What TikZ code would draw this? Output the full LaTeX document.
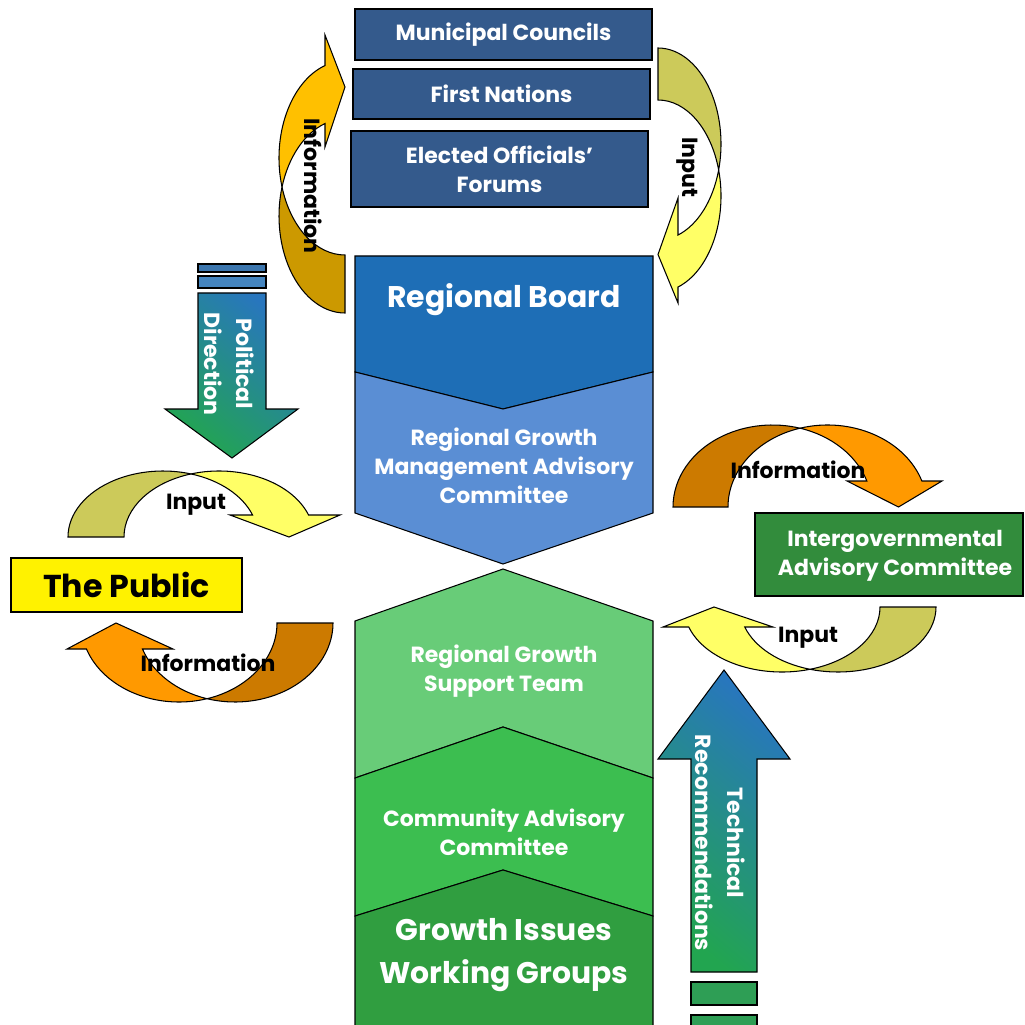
\documentclass[tikz,border=0pt]{standalone}
\usepackage{fontspec}
\setmainfont{Poppins}
\definecolor{topblue}{RGB}{52,90,140}
\definecolor{boardblue}{RGB}{30,110,182}
\definecolor{rgmblue}{RGB}{90,142,212}
\definecolor{rgstgreen}{RGB}{104,204,120}
\definecolor{cacgreen}{RGB}{60,190,80}
\definecolor{giwggreen}{RGB}{48,158,64}
\definecolor{igacgreen}{RGB}{50,140,60}
\definecolor{backolive}{RGB}{204,202,90}
\definecolor{frontyellow}{RGB}{255,255,102}
\definecolor{backorange}{RGB}{204,122,0}
\definecolor{frontorange}{RGB}{255,153,0}
\definecolor{backgold}{RGB}{204,153,0}
\definecolor{frontgold}{RGB}{255,192,0}
\definecolor{arrowblue}{RGB}{40,118,190}
\definecolor{arrowgreen}{RGB}{34,165,80}
% twisted curved arrow: placement, back, front, a, b, d, h, inner barb, outer barb
\newcommand{\twistarrow}[9]{%
  \begin{scope}[#1]
    \pgfmathsetmacro{\cra}{acos(#6/(2*#4))}
    \pgfmathsetmacro{\crb}{180-\cra}
    \pgfmathsetmacro{\crp}{asin(#7/#5)}
    \pgfmathsetmacro{\cry}{#5*sin(\cra)}
    \pgfmathsetmacro{\crx}{#4*cos(\crp)}
    \filldraw[fill=#2] ({-#6/2-#4},0)
      arc[start angle=180, end angle=\cra, x radius=#4, y radius=#5]
      arc[start angle=\crb, end angle=180, x radius=#4, y radius=#5] -- cycle;
    \filldraw[fill=#3] (0,\cry)
      arc[start angle=\cra, end angle=\crp, x radius=#4, y radius=#5]
      -- (#8,#7) -- ({(#8+#9)/2+4},0) -- (#9,#7) -- ({#6/2+\crx},#7)
      arc[start angle=\crp, end angle=\crb, x radius=#4, y radius=#5] -- cycle;
  \end{scope}}

\begin{document}
\begin{tikzpicture}[x=0.2mm, y=0.2mm, line width=0.6pt,
    boxtext/.style={font=\bfseries\fontsize{12.5}{16.5}\selectfont, text=white, align=center, inner sep=0pt},
    bigtext/.style={font=\bfseries\fontsize{17}{24.5}\selectfont, text=white, align=center, inner sep=0pt},
    arrowtext/.style={font=\bfseries\fontsize{12.5}{18.5}\selectfont, text=white, align=center, inner sep=0pt, rotate=-90},
    labeltext/.style={font=\bfseries\fontsize{12.5}{15}\selectfont, text=black, inner sep=0pt}]
    \useasboundingbox (0,0) rectangle (1025,1024);
    \clip (0,0) rectangle (1025,1024);

    % curved arrows
    \twistarrow{shift={(345,837)}, rotate=90}{backgold}{frontgold}{97}{66}{58}{20}{40}{152}
    \twistarrow{shift={(658,854)}, rotate=-90}{backolive}{frontyellow}{96}{63}{52}{20}{28}{133}
    \twistarrow{shift={(191,487)}}{backolive}{frontyellow}{95}{66}{56}{22}{39}{149}
    \twistarrow{shift={(207,401)}, rotate=180}{backorange}{frontorange}{98}{79}{56}{26}{34}{140}
    \twistarrow{shift={(800,517)}}{backorange}{frontorange}{99.5}{82}{55}{26}{47}{142}
    \twistarrow{shift={(810,417)}, rotate=180}{backolive}{frontyellow}{98}{65}{56}{20}{37}{147}

    % top boxes
    \filldraw[fill=topblue] (355,964) rectangle (652,1015);
    \filldraw[fill=topblue] (353,905) rectangle (650,955);
    \filldraw[fill=topblue] (351,817) rectangle (648,893);
    \node[boxtext] (mc) at (503.5,989.5) {Municipal Councils};
    \node[boxtext] (fn) at (501.5,930) {First Nations};
    \node[boxtext] (eof) at (499.5,855) {Elected Officials’\\Forums};

    % central column
    \filldraw[fill=boardblue] (355,768) -- (653,768) -- (653,652) -- (503,615) -- (355,652) -- cycle;
    \filldraw[fill=rgmblue] (355,652) -- (503,615) -- (653,652) -- (653,511) -- (503,460) -- (355,511) -- cycle;
    \filldraw[fill=rgstgreen] (355,403) -- (503,455) -- (653,403) -- (653,246) -- (503,297) -- (355,246) -- cycle;
    \filldraw[fill=cacgreen] (355,246) -- (503,297) -- (653,246) -- (653,108) -- (503,154) -- (355,108) -- cycle;
    \filldraw[fill=giwggreen] (355,108) -- (503,154) -- (653,108) -- (653,-5) -- (355,-5) -- cycle;
    \node[bigtext] (board) at (504,724) {Regional Board};
    \node[boxtext] (rgmac) at (504,558) {Regional Growth\\Management Advisory\\Committee};
    \node[boxtext] (rgst) at (504,353) {Regional Growth\\Support Team};
    \node[boxtext] (cac) at (504,191.5) {Community Advisory\\Committee};
    \node[bigtext] (giwg) at (504,68.5) {Growth Issues\\Working Groups};

    % side boxes
    \filldraw[fill=yellow] (11,412) rectangle (242,466);
    \node[font=\bfseries\fontsize{18}{22}\selectfont, inner sep=0pt] (public) at (126.5,439) {The Public};
    \filldraw[fill=igacgreen] (755,428) rectangle (1023,511);
    \node[boxtext] (igac) at (895,468) {Intergovernmental\\Advisory Committee};

    % straight arrows
    \filldraw[fill={rgb,255:red,60;green,118;blue,174}] (198,752) rectangle (266,760);
    \filldraw[fill={rgb,255:red,69;green,133;blue,191}] (198,736) rectangle (266,748);
    \draw[top color=arrowblue, bottom color=arrowgreen, shading angle=-40]
      (198,731) -- (266,731) -- (266,615) -- (298,615) -- (232,566) -- (165,615) -- (198,615) -- cycle;
    \node[arrowtext] (poldir) at (229,660) {Political\\Direction};
    \draw[top color=arrowblue, bottom color=arrowgreen, shading angle=-40]
      (691,52) -- (691,265) -- (658,265) -- (724,354) -- (790,265) -- (757,265) -- (757,52) -- cycle;
    \filldraw[fill={rgb,255:red,46;green,158;blue,85}] (691,19) rectangle (757,42);
    \filldraw[fill={rgb,255:red,46;green,158;blue,85}] (691,-5) rectangle (757,9);
    \node[arrowtext] (techrec) at (720,181) {Technical\\Recommendations};

    % arrow labels
    \node[labeltext, rotate=-90] (infotop) at (313,838) {Information};
    \node[labeltext, rotate=-90] (inputtop) at (687,857) {Input};
    \node[labeltext] (inputpub) at (196,519) {Input};
    \node[labeltext] (infopub) at (208,361) {Information};
    \node[labeltext] (infoigac) at (798,554) {Information};
    \node[labeltext] (inputigac) at (808,386) {Input};
\end{tikzpicture}
\end{document}
